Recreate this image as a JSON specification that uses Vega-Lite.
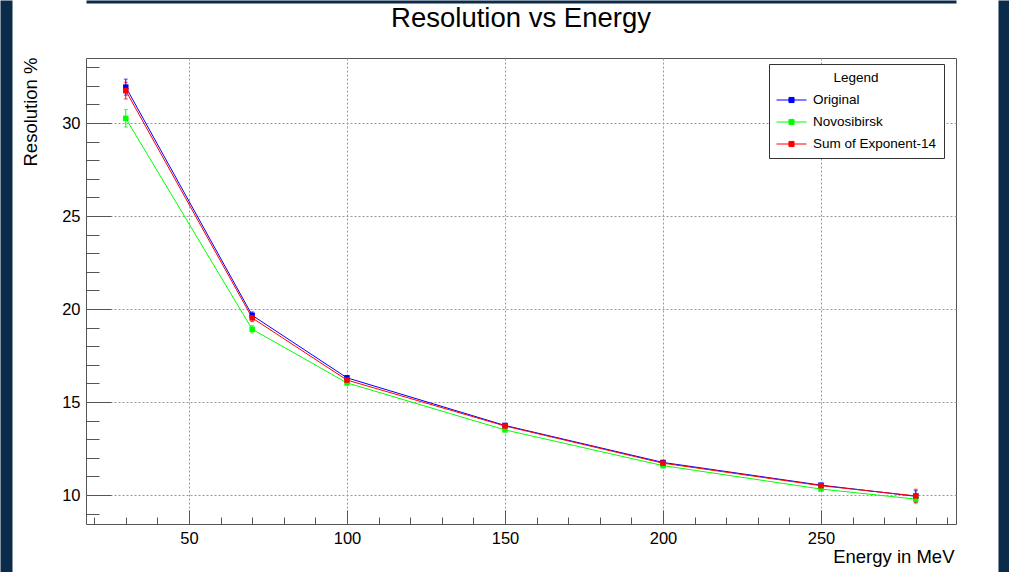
{
  "$schema": "https://vega.github.io/schema/vega-lite/v6.json",
  "width": 870,
  "height": 466,
  "autosize": {"type": "none"},
  "padding": {"left": 86, "top": 58, "right": 53, "bottom": 48},
  "background": "white",
  "title": {"text": "Resolution vs Energy", "fontSize": 27.5, "font": "Liberation Sans", "fontWeight": "normal", "anchor": "middle", "frame": "group", "baseline": "alphabetic", "offset": -54, "color": "black"},
  "config": {
    "view": {"stroke": "#555", "strokeWidth": 1, "fill": "white"},
    "font": "Liberation Sans"
  },
  "data": {"values": [
    {"E": 30, "series": "Original", "res": 31.93, "err": 0.43},
    {"E": 70, "series": "Original", "res": 19.66, "err": 0.18},
    {"E": 100, "series": "Original", "res": 16.30, "err": 0.12},
    {"E": 150, "series": "Original", "res": 13.74, "err": 0.08},
    {"E": 200, "series": "Original", "res": 11.75, "err": 0.07},
    {"E": 250, "series": "Original", "res": 10.53, "err": 0.06},
    {"E": 280, "series": "Original", "res": 9.93, "err": 0.30},
    {"E": 30, "series": "Novosibirsk", "res": 30.25, "err": 0.47},
    {"E": 70, "series": "Novosibirsk", "res": 18.91, "err": 0.20},
    {"E": 100, "series": "Novosibirsk", "res": 16.03, "err": 0.12},
    {"E": 150, "series": "Novosibirsk", "res": 13.50, "err": 0.08},
    {"E": 200, "series": "Novosibirsk", "res": 11.58, "err": 0.07},
    {"E": 250, "series": "Novosibirsk", "res": 10.32, "err": 0.06},
    {"E": 280, "series": "Novosibirsk", "res": 9.78, "err": 0.25},
    {"E": 30, "series": "Sum of Exponent-14", "res": 31.74, "err": 0.45},
    {"E": 70, "series": "Sum of Exponent-14", "res": 19.52, "err": 0.20},
    {"E": 100, "series": "Sum of Exponent-14", "res": 16.18, "err": 0.12},
    {"E": 150, "series": "Sum of Exponent-14", "res": 13.71, "err": 0.08},
    {"E": 200, "series": "Sum of Exponent-14", "res": 11.71, "err": 0.07},
    {"E": 250, "series": "Sum of Exponent-14", "res": 10.50, "err": 0.07},
    {"E": 280, "series": "Sum of Exponent-14", "res": 9.95, "err": 0.36}
  ]},
  "encoding": {
    "color": {
      "field": "series", "type": "nominal",
      "scale": {"domain": ["Original", "Novosibirsk", "Sum of Exponent-14"], "range": ["#0000ff", "#00ff00", "#ff0000"]},
      "legend": {
        "orient": "none", "legendX": 683, "legendY": 6,
        "title": "Legend", "titleAnchor": "middle", "titleAlign": "center",
        "titleFont": "Liberation Sans", "titleFontSize": 13.5, "titleFontWeight": "normal", "titleColor": "black", "titlePadding": 0,
        "strokeColor": "#333", "fillColor": "white", "padding": 7,
        "symbolType": "M-1,0H1M-0.17,-0.17H0.17V0.17H-0.17Z", "symbolSize": 900, "symbolStrokeWidth": 1,
        "labelFont": "Liberation Sans", "labelFontSize": 13.5, "labelColor": "black", "labelOffset": 6, "labelLimit": 300,
        "rowPadding": -7,
        "encode": {"symbols": {"update": {"fill": {"scale": "color", "field": "value"}, "stroke": {"scale": "color", "field": "value"}, "opacity": {"value": 1}}}}
      }
    }
  },
  "layer": [
    {
      "mark": {"type": "errorbar", "ticks": {"size": 4, "thickness": 1}, "thickness": 1},
      "encoding": {
        "x": {"field": "E", "type": "quantitative",
          "scale": {"domain": [17.41, 292.73], "nice": false, "zero": false},
          "axis": {"orient": "bottom", "values": [20,30,40,50,60,70,80,90,100,110,120,130,140,150,160,170,180,190,200,210,220,230,240,250,260,270,280,290],
            "tickSize": {"condition": {"test": "datum.value % 50 === 0", "value": -14}, "value": -7},
            "labelExpr": "datum.value % 50 === 0 ? datum.label : ''",
            "grid": true, "gridOpacity": {"condition": {"test": "datum.value % 50 === 0", "value": 1}, "value": 0},
            "gridColor": "#999", "gridDash": [2, 2], "gridWidth": 1,
            "domain": false, "tickColor": "#555", "tickWidth": 1,
            "labelFont": "Liberation Sans", "labelFontSize": 16.5, "labelColor": "black", "labelPadding": 20,
            "labelOverlap": false, "labelFlush": false, "labelBound": false,
            "title": "Energy in MeV", "titleFont": "Liberation Sans", "titleFontSize": 18.5, "titleFontWeight": "normal", "titleColor": "black",
            "titleAnchor": "end", "titleAlign": "right", "titleBaseline": "alphabetic", "titleX": 868, "titleY": 38, "zindex": 0}
        },
        "y": {"field": "res", "type": "quantitative",
          "scale": {"domain": [8.441, 33.495], "nice": false, "zero": false},
          "axis": {"orient": "left", "values": [9,10,11,12,13,14,15,16,17,18,19,20,21,22,23,24,25,26,27,28,29,30,31,32,33],
            "tickSize": {"condition": {"test": "datum.value % 5 === 0", "value": -25}, "value": -13},
            "labelExpr": "datum.value % 5 === 0 ? datum.label : ''",
            "grid": true, "gridOpacity": {"condition": {"test": "datum.value % 5 === 0", "value": 1}, "value": 0},
            "gridColor": "#999", "gridDash": [2, 2], "gridWidth": 1,
            "domain": false, "tickColor": "#555", "tickWidth": 1,
            "labelFont": "Liberation Sans", "labelFontSize": 16.5, "labelColor": "black", "labelPadding": 31,
            "labelOverlap": false, "labelFlush": false, "labelBound": false,
            "title": "Resolution %", "titleFont": "Liberation Sans", "titleFontSize": 18.5, "titleFontWeight": "normal", "titleColor": "black",
            "titleAnchor": "end", "titleAlign": "right", "titleAngle": -90, "titleBaseline": "alphabetic", "titleX": -50, "titleY": -1, "zindex": 0}
        },
        "yError": {"field": "err"}
      }
    },
    {
      "mark": {"type": "line", "strokeWidth": 1},
      "encoding": {
        "x": {"field": "E", "type": "quantitative",
          "scale": {"domain": [17.41, 292.73], "nice": false, "zero": false},
          "axis": {"orient": "top", "offset": 56.5, "domain": true, "domainColor": "#0b2b4b", "domainWidth": 3, "ticks": false, "labels": false, "grid": false, "title": null}
        },
        "y": {"field": "res", "type": "quantitative",
          "scale": {"domain": [8.441, 33.495], "nice": false, "zero": false},
          "axis": {"orient": "left", "offset": 74, "values": [21.24], "domain": false, "ticks": true, "tickSize": 12, "tickWidth": 572, "tickColor": "#0b2b4b", "labels": false, "grid": false, "title": null}
        }
      }
    },
    {
      "mark": {"type": "point", "shape": "square", "filled": true, "size": 30, "opacity": 1},
      "encoding": {
        "x": {"field": "E", "type": "quantitative",
          "scale": {"domain": [17.41, 292.73], "nice": false, "zero": false},
          "axis": null
        },
        "y": {"field": "res", "type": "quantitative",
          "scale": {"domain": [8.441, 33.495], "nice": false, "zero": false},
          "axis": {"orient": "right", "offset": 42, "values": [21.24], "domain": false, "ticks": true, "tickSize": 11, "tickWidth": 572, "tickColor": "#0b2b4b", "labels": false, "grid": false, "title": null}
        }
      }
    }
  ],
  "resolve": {"axis": {"x": "independent", "y": "independent"}}
}
